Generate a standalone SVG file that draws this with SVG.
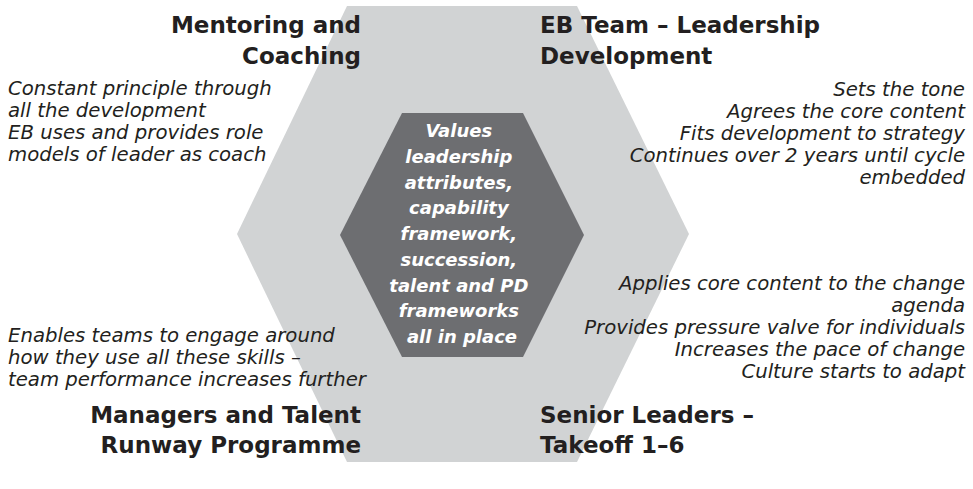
<svg xmlns="http://www.w3.org/2000/svg" width="973" height="489" viewBox="0 0 973 489">
<style>
.title{font-family:"DejaVu Sans","Liberation Sans",sans-serif;font-weight:bold;font-size:23px;fill:#231f20}
.note{font-family:"DejaVu Sans","Liberation Sans",sans-serif;font-style:italic;font-size:19.7px;fill:#231f20}
.core{font-family:"DejaVu Sans","Liberation Sans",sans-serif;font-style:italic;font-weight:bold;font-size:18px;fill:#ffffff}
.end{text-anchor:end}
.mid{text-anchor:middle}
</style>
<rect width="973" height="489" fill="#ffffff"/>
<g id="outer-hexagon">
<polygon points="347,6 577,6 689,234 577,462 347,462 237,234" fill="#d1d3d4"/>
</g>
<g id="core">
<polygon points="402,113 523,113 584,235 523,357 402,357 340,235" fill="#6d6e71"/>
<text class="core mid" x="462">
<tspan x="462" y="137">Values</tspan>
<tspan x="462" y="163">leadership</tspan>
<tspan x="462" y="189">attributes,</tspan>
<tspan x="462" y="214">capability</tspan>
<tspan x="462" y="240">framework,</tspan>
<tspan x="462" y="266">succession,</tspan>
<tspan x="462" y="292">talent and PD</tspan>
<tspan x="462" y="317">frameworks</tspan>
<tspan x="462" y="343">all in place</tspan>
</text>
</g>
<g id="mentoring">
<text class="title end"><tspan x="361" y="33">Mentoring and</tspan><tspan x="361" y="64">Coaching</tspan></text>
<text class="note"><tspan x="8" y="95">Constant principle through</tspan><tspan x="8" y="117">all the development</tspan><tspan x="8" y="139">EB uses and provides role</tspan><tspan x="8" y="161">models of leader as coach</tspan></text>
</g>
<g id="eb-team">
<text class="title"><tspan x="540" y="33">EB Team – Leadership</tspan><tspan x="540" y="64">Development</tspan></text>
<text class="note end"><tspan x="965" y="96">Sets the tone</tspan><tspan x="965" y="118">Agrees the core content</tspan><tspan x="965" y="140">Fits development to strategy</tspan><tspan x="965" y="162">Continues over 2 years until cycle</tspan><tspan x="965" y="184">embedded</tspan></text>
</g>
<g id="senior-leaders">
<text class="note end"><tspan x="965" y="290">Applies core content to the change</tspan><tspan x="965" y="312">agenda</tspan><tspan x="965" y="334">Provides pressure valve for individuals</tspan><tspan x="965" y="356">Increases the pace of change</tspan><tspan x="965" y="378">Culture starts to adapt</tspan></text>
<text class="title"><tspan x="540" y="423">Senior Leaders –</tspan><tspan x="540" y="453">Takeoff 1–6</tspan></text>
</g>
<g id="managers">
<text class="note"><tspan x="8" y="342">Enables teams to engage around</tspan><tspan x="8" y="364">how they use all these skills –</tspan><tspan x="8" y="386">team performance increases further</tspan></text>
<text class="title end"><tspan x="361" y="423">Managers and Talent</tspan><tspan x="361" y="453">Runway Programme</tspan></text>
</g>
<g id="connectors"/>
</svg>
